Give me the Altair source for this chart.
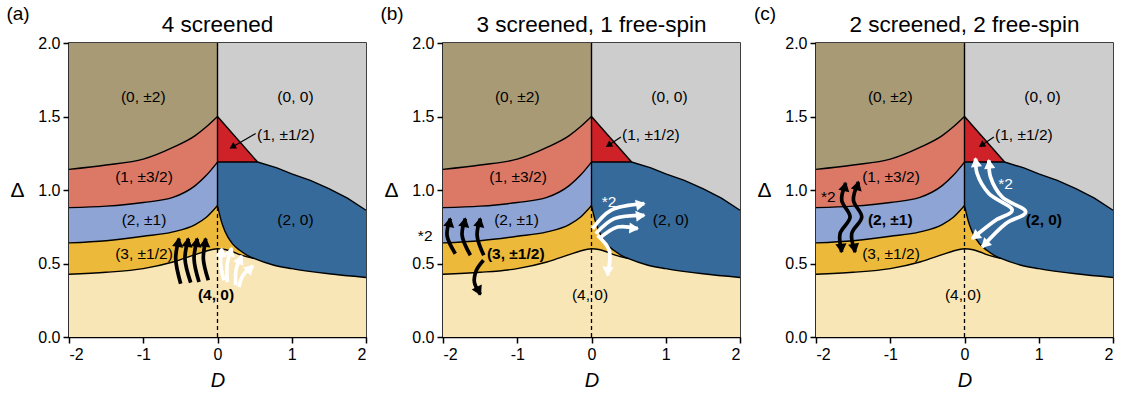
import math
import altair as alt
import pandas as pd

FONT = "Liberation Sans"

# ---------------- phase boundaries (D, Delta) ----------------
D_left = [-2.0, -1.5, -1.0, -0.6, -0.3, -0.15, 0.0]
b_02_32 = [1.14, 1.17, 1.21, 1.29, 1.37, 1.43, 1.50]      # (0,±2) | (1,±3/2)
b_32_1 = [0.88, 0.89, 0.915, 0.95, 1.03, 1.10, 1.19]      # (1,±3/2) | (2,±1)
b_1_12 = [0.64, 0.655, 0.685, 0.715, 0.765, 0.815, 0.895] # (2,±1) | (3,±1/2)
b_12_40_left = [0.427, 0.44, 0.465, 0.51, 0.56, 0.585, 0.60]  # (3,±1/2) | (4,0)

D_bell_right = [0.0, 0.1, 0.2, 0.3, 0.4, 0.5]
b_12_40_right = [0.60, 0.595, 0.58, 0.56, 0.545, 0.533]

D_right = [0.0, 0.05, 0.1, 0.2, 0.3, 0.4, 0.5, 0.75, 1.0, 1.5, 2.0]
b_20_low = [0.895, 0.79, 0.72, 0.635, 0.59, 0.556, 0.533, 0.49, 0.465, 0.43, 0.405]

D_upper_right = [0.0, 0.54, 0.8, 1.0, 1.25, 1.5, 1.75, 2.0]
b_20_00 = [1.19, 1.19, 1.15, 1.11, 1.065, 1.01, 0.945, 0.862]

D_tri = [0.0, 0.54]
b_tri = [1.50, 1.19]

D_box_left = [-2.0, 0.0]
D_box_right = [0.0, 2.0]
top = [2.0, 2.0]

COLORS = {
    "(0, ±2)": "#a99a76",
    "(0, 0)": "#cdcdcd",
    "(1, ±3/2)": "#db7966",
    "(1, ±1/2)": "#cf2128",
    "(2, 0)": "#356a9b",
    "(2, ±1)": "#8ea4d4",
    "(3, ±1/2)": "#edb93b",
    "(4, 0)": "#f8e6b6",
}

# ---------------- region labels ----------------
label_text = ["(0, ±2)", "(0, 0)", "(1, ±3/2)", "(2, ±1)", "(2, 0)", "(3, ±1/2)", "(4, 0)"]
label_V = [1.633, 1.633, 1.088, 0.794, 0.794, 0.567, 0.284]
label_D_a = [-1.0, 1.05, -0.99, -0.99, 1.05, -0.99, -0.02]
label_D_b = [-1.0, 1.05, -0.99, -1.01, 1.07, -1.02, -0.02]
label_D_c = [-1.0, 1.05, -0.99, -1.0, 1.07, -0.99, -0.02]
bold_a = [False, False, False, False, False, False, True]
bold_b = [False, False, False, False, False, True, False]
bold_c = [False, False, False, True, True, False, False]

half_label = "(1, ±1/2)"
half_label_pos_a = (0.92, 1.372)
half_label_pos_bc = (0.80, 1.372)
pointer_a = [(0.514, 1.384), (0.20, 1.293)]
pointer_bc = [(0.396, 1.36), (0.23, 1.305)]

panel_titles = ["4 screened", "3 screened, 1 free-spin", "2 screened, 2 free-spin"]
panel_letters = ["(a)", "(b)", "(c)"]

# ---------------- annotation arrows (D, Delta) ----------------
arrows_a = [
    ("black", [(-0.496, 0.363), (-0.563, 0.533), (-0.519, 0.669)], "end"),
    ("black", [(-0.361, 0.370), (-0.438, 0.533), (-0.393, 0.669)], "end"),
    ("black", [(-0.249, 0.374), (-0.316, 0.533), (-0.272, 0.669)], "end"),
    ("black", [(-0.124, 0.386), (-0.191, 0.533), (-0.159, 0.669)], "end"),
    ("white", [(0.088, 0.386), (0.043, 0.488), (0.057, 0.601)], "end"),
    ("white", [(0.132, 0.374), (0.132, 0.499), (0.191, 0.605)], "end"),
    ("white", [(0.245, 0.352), (0.253, 0.465), (0.326, 0.551)], "end"),
    ("white", [(0.290, 0.340), (0.344, 0.420), (0.478, 0.483)], "end"),
]
arrows_b = [
    ("black", [(-1.834, 0.567), (-1.946, 0.692), (-1.901, 0.805)], "end"),
    ("black", [(-1.631, 0.556), (-1.743, 0.692), (-1.699, 0.805)], "end"),
    ("black", [(-1.451, 0.556), (-1.541, 0.692), (-1.496, 0.805)], "end"),
    ("black", [(-1.455, 0.522), (-1.55, 0.454), (-1.577, 0.372), (-1.496, 0.29)], "end"),
    ("white", [(0.014, 0.737), (0.261, 0.862), (0.711, 0.907)], "end"),
    ("white", [(0.058, 0.703), (0.306, 0.805), (0.711, 0.828)], "end"),
    ("white", [(0.103, 0.669), (0.351, 0.748), (0.622, 0.737)], "end"),
    ("white", [(0.081, 0.692), (0.238, 0.59), (0.216, 0.42)], "end"),
]
arrows_c = [
    ("black", [(-1.60, 1.048), (-1.654, 0.93), (-1.541, 0.816), (-1.676, 0.703), (-1.654, 0.578)], "both"),
    ("black", [(-1.428, 1.054), (-1.496, 0.93), (-1.384, 0.816), (-1.519, 0.703), (-1.473, 0.578)], "both"),
    ("white", [(0.149, 1.214), (0.170, 1.112), (0.328, 0.976), (0.643, 0.862), (0.419, 0.794), (0.103, 0.669)], "both"),
    ("white", [(0.328, 1.202), (0.351, 1.088), (0.508, 0.952), (0.824, 0.85), (0.554, 0.771), (0.238, 0.612)], "both"),
]
stars_b = [("*2", -2.24, 0.685, "black"), ("*2", 0.236, 0.92, "white")]
stars_c = [("*2", -1.834, 0.952, "black"), ("*2", 0.554, 1.043, "white")]

W, H = 297, 294
PX_D = W / 4.0
PX_V = H / 2.0

X = alt.X(
    "D:Q",
    scale=alt.Scale(domain=[-2, 2], nice=False, zero=False),
    axis=alt.Axis(values=[-2, -1, 0, 1, 2], labelExpr="'' + datum.value", title="D",
                  titleFontStyle="italic", titleFont=FONT, titleFontSize=20, titleFontWeight="normal",
                  titleColor="black", labelFont=FONT, labelFontSize=16, labelColor="black",
                  tickSize=6, tickWidth=1.5, tickColor="black", domainColor="black", domainWidth=1.5,
                  grid=False, labelPadding=3, titlePadding=8),
)
Y = alt.Y(
    "v:Q",
    scale=alt.Scale(domain=[0, 2], nice=False),
    axis=alt.Axis(values=[0, 0.5, 1, 1.5, 2], format=".1f", title="Δ", titleAngle=0,
                  titleFont=FONT, titleFontSize=21, titleFontWeight="normal", titleColor="black",
                  titleX=-52, titleY=147, titleAlign="center", titleBaseline="middle",
                  labelFont=FONT, labelFontSize=16, labelColor="black",
                  tickSize=6, tickWidth=1.5, tickColor="black", domainColor="black", domainWidth=1.5,
                  grid=False, labelPadding=3),
)


def df_of(ds, vs):
    return pd.DataFrame({"D": ds, "v": vs, "i": list(range(len(ds)))})


def area(ds, vs, name, interp="monotone"):
    return alt.Chart(df_of(ds, vs)).mark_area(color=COLORS[name], interpolate=interp).encode(x=X, y=Y)


def bline(ds, vs, interp="monotone"):
    return alt.Chart(df_of(ds, vs)).mark_line(color="black", strokeWidth=1.4, interpolate=interp).encode(x=X, y=Y)


def arrow_layers(arrows):
    rows, heads = [], []
    for k, (col, pts, mode) in enumerate(arrows):
        for i, (d, v) in enumerate(pts):
            rows.append({"D": d, "v": v, "i": i, "id": k, "c": col})
        ends = [(pts[-2], pts[-1])]
        if mode == "both":
            ends.append((pts[1], pts[0]))
        for (p0, p1) in ends:
            dx = (p1[0] - p0[0]) * PX_D
            dy = (p1[1] - p0[1]) * PX_V
            ang = math.degrees(math.atan2(dx, dy)) % 360
            n = math.hypot(dx, dy) or 1.0
            back = 3.5
            heads.append({"D": p1[0] - dx / n * back / PX_D, "v": p1[1] - dy / n * back / PX_V,
                          "a": ang, "c": col})
    df = pd.DataFrame(rows)
    hf = pd.DataFrame(heads)
    cs = alt.Color("c:N", scale=None)
    lines = alt.Chart(df).mark_line(strokeWidth=3.7, interpolate="catmull-rom", strokeCap="butt").encode(
        x=X, y=Y, order="i:Q", detail="id:N", color=cs)
    hd = alt.Chart(hf).mark_point(shape="triangle-up", filled=True, size=125, opacity=1, strokeWidth=0).encode(
        x=X, y=Y, angle=alt.Angle("a:Q", scale=None), color=cs)
    return [lines, hd]


def panel(idx, lab_D, bold, half_pos, pointer, arrows, stars):
    layers = [
        area(D_box_left, top, "(0, ±2)"),
        area(D_box_right, top, "(0, 0)"),
        area(D_left, b_02_32, "(1, ±3/2)"),
        area(D_tri, b_tri, "(1, ±1/2)"),
        area(D_upper_right, b_20_00, "(2, 0)", "linear"),
        area(D_left, b_32_1, "(2, ±1)"),
        area(D_left + D_right[1:7], b_1_12 + b_20_low[1:7], "(3, ±1/2)"),
        area(D_left + D_bell_right[1:] + D_right[7:], b_12_40_left + b_12_40_right[1:] + b_20_low[7:], "(4, 0)"),
        bline(D_left, b_02_32),
        bline(D_left, b_32_1),
        bline(D_left, b_1_12),
        bline(D_left + D_bell_right[1:], b_12_40_left + b_12_40_right[1:]),
        bline(D_right, b_20_low),
        bline(D_upper_right, b_20_00, "linear"),
        bline(D_tri, b_tri),
        alt.Chart(pd.DataFrame({"D": [0.0, 0.0], "v": [0.895, 2.0]})).mark_line(
            color="black", strokeWidth=1.4).encode(x=X, y=Y),
        alt.Chart(pd.DataFrame({"D": [0.0, 0.0], "v": [0.0, 0.895]})).mark_line(
            color="black", strokeWidth=1.3, strokeDash=[4, 3]).encode(x=X, y=Y),
    ]
    # pointer to the (1, ±1/2) triangle
    p0, p1 = pointer
    layers.append(alt.Chart(pd.DataFrame({"D": [p0[0], p1[0]], "v": [p0[1], p1[1]]})).mark_line(
        color="black", strokeWidth=1.2).encode(x=X, y=Y))
    dx = (p1[0] - p0[0]) * PX_D
    dy = (p1[1] - p0[1]) * PX_V
    ang = math.degrees(math.atan2(dx, dy)) % 360
    layers.append(alt.Chart(pd.DataFrame({"D": [p1[0]], "v": [p1[1]], "a": [ang]})).mark_point(
        shape="triangle-up", filled=True, size=55, color="black", opacity=1, strokeWidth=0).encode(
        x=X, y=Y, angle=alt.Angle("a:Q", scale=None)))
    layers += arrow_layers(arrows)
    # region labels
    lab = pd.DataFrame({"t": label_text, "D": lab_D, "v": label_V,
                        "w": ["bold" if b else "normal" for b in bold]})
    for wgt in ["normal", "bold"]:
        layers.append(alt.Chart(lab[lab.w == wgt]).mark_text(
            font=FONT, fontSize=15.5, fontWeight=wgt, color="black").encode(x=X, y=Y, text="t:N"))
    layers.append(alt.Chart(pd.DataFrame({"t": [half_label], "D": [half_pos[0]], "v": [half_pos[1]]})).mark_text(
        font=FONT, fontSize=15.5, color="black").encode(x=X, y=Y, text="t:N"))
    if stars:
        sf = pd.DataFrame({"t": [s[0] for s in stars], "D": [s[1] for s in stars],
                           "v": [s[2] for s in stars], "c": [s[3] for s in stars]})
        layers.append(alt.Chart(sf).mark_text(font=FONT, fontSize=15.5).encode(
            x=X, y=Y, text="t:N", color=alt.Color("c:N", scale=None)))
    # panel letter and panel title as text marks
    layers.append(alt.Chart(pd.DataFrame({"t": [panel_letters[idx]]})).mark_text(
        font=FONT, fontSize=19, color="black", baseline="middle").encode(
        text="t:N", x=alt.value(-51), y=alt.value(-29)))
    layers.append(alt.Chart(pd.DataFrame({"t": [panel_titles[idx]]})).mark_text(
        font=FONT, fontSize=22.5, color="black", baseline="middle").encode(
        text="t:N", x=alt.value(W / 2), y=alt.value(-18)))
    return alt.layer(*layers).properties(width=W, height=H)


pa = panel(0, label_D_a, bold_a, half_label_pos_a, pointer_a, arrows_a, [])
pb = panel(1, label_D_b, bold_b, half_label_pos_bc, pointer_bc, arrows_b, stars_b)
pc = panel(2, label_D_c, bold_c, half_label_pos_bc, pointer_bc, arrows_c, stars_c)

chart = alt.hconcat(pa, pb, pc, spacing=9).properties(
    padding={"left": 5, "top": 4, "right": 0, "bottom": 0},
    background="white",
).configure_view(stroke="black", strokeWidth=1.5)

chart.save("out.html", embed_options={"renderer": "svg", "actions": False})
